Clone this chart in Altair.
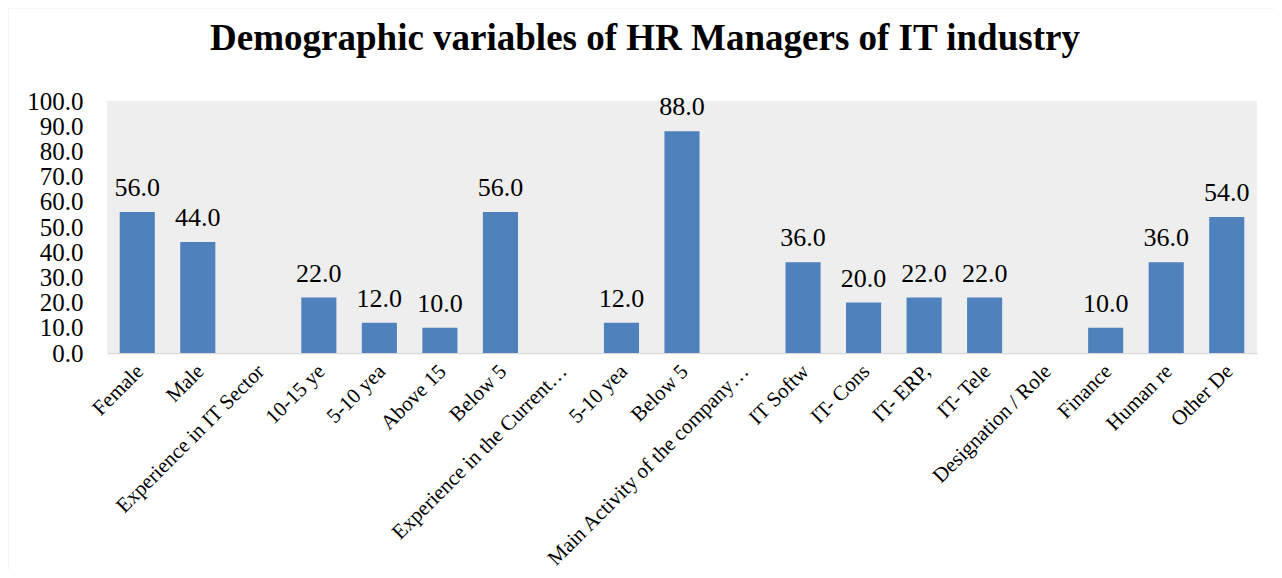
import json
import altair as alt
import pandas as pd

title_text = "Demographic variables of HR Managers of IT industry"
categories = ["Female", "Male", "Experience in IT Sector", "10-15 ye", "5-10 yea",
              "Above 15", "Below 5", "Experience in the Current…", "5-10 yea", "Below 5",
              "Main Activity of the company…", "IT Softw", "IT- Cons", "IT- ERP,", "IT- Tele",
              "Designation / Role", "Finance", "Human re", "Other De"]
values = [56.0, 44.0, None, 22.0, 12.0, 10.0, 56.0, None, 12.0, 88.0, None,
          36.0, 20.0, 22.0, 22.0, None, 10.0, 36.0, 54.0]
y_ticks = [0, 10, 20, 30, 40, 50, 60, 70, 80, 90, 100]

idx = list(range(len(categories)))
df = pd.DataFrame({"idx": idx, "label": categories, "value": values})

W, H = 1150, 252
FONT = "Liberation Serif"

label_expr = json.dumps(categories, ensure_ascii=False) + "[datum.value]"

x_enc = alt.X("idx:O", title=None,
              scale=alt.Scale(domain=idx, paddingInner=0.42, paddingOuter=0.21),
              axis=alt.Axis(labelExpr=label_expr, labelAngle=-45, labelAlign="right",
                            labelBaseline="middle", labelFont=FONT, labelFontSize=21,
                            labelColor="black", labelLimit=500, labelPadding=15,
                            labelOffset=3,
                            ticks=False, domainColor="#d9d9d9", domainWidth=1.5))
y_enc = alt.Y("value:Q", title=None,
              scale=alt.Scale(domain=[0, 100], nice=False),
              axis=alt.Axis(values=y_ticks, format=".1f", grid=False, domain=False, ticks=False,
                            labelFont=FONT, labelFontSize=25, labelColor="black",
                            labelPadding=24))

one = alt.Data(values=[{}])

bg = alt.Chart(one).mark_rect(color="#eeeeee").encode(
    x=alt.value(0), x2=alt.value(W), y=alt.value(0), y2=alt.value(H))

border = alt.Chart(one).mark_rect(
    filled=False, stroke="#d9d9d9", strokeWidth=1.5).encode(
    x=alt.value(-99.5), x2=alt.value(1400), y=alt.value(-93.5), y2=alt.value(700))

title = alt.Chart(one).mark_text(
    text=title_text, font=FONT, fontSize=37, fontWeight="bold", color="black",
    align="center", baseline="alphabetic").encode(x=alt.value(538), y=alt.value(-51))

bars = alt.Chart(df).mark_bar(color="#4f81bd").encode(x=x_enc, y=y_enc)
labels = alt.Chart(df).mark_text(font=FONT, fontSize=26, color="black",
                                 baseline="alphabetic", dy=-16).encode(
    x=x_enc, y=y_enc, text=alt.Text("value:Q", format=".1f"))

chart = alt.layer(border, bg, bars, labels, title).properties(
    width=W, height=H,
    autosize=alt.AutoSizeParams(type="none"),
    padding={"left": 99, "top": 93, "right": 17, "bottom": 217},
).configure_view(stroke=None)

chart.save("out.html", embed_options={"renderer": "svg", "actions": False})
